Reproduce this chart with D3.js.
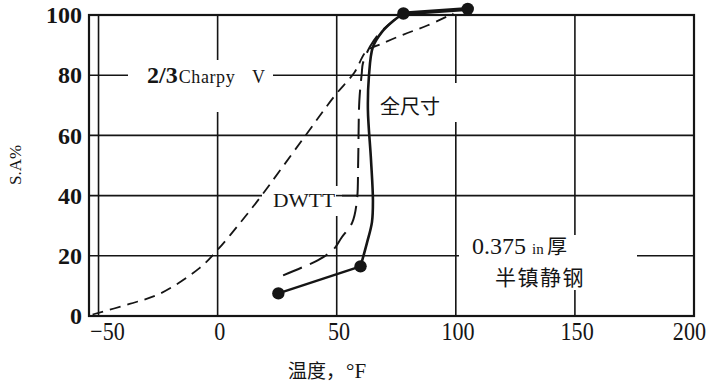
<!DOCTYPE html>
<html>
<head>
<meta charset="utf-8">
<script src="https://cdn.jsdelivr.net/npm/d3@7"></script>
<style>
  html, body { margin: 0; padding: 0; background: #fff; }
  svg { display: block; }
</style>
</head>
<body>
<svg id="chart" width="707" height="385"></svg>
<script>
// Axis ticks and extents
const xTicks = [-50, 0, 50, 100, 150, 200];
const yTicks = [0, 20, 40, 60, 80, 100];
const xDomain = [-54, 200];
const yDomain = [0, 100];

// 2/3 size Charpy V transition curve (temperature °F, shear area %)
const charpyTemp = [-52.5, -37, -24, -7.5, 0, 9.5, 17, 36, 49, 57.5, 62.5, 69, 78, 88, 99];
const charpySA   = [0.5, 4, 7.5, 16, 22, 31, 38.5, 59, 73, 81, 88, 90.5, 93.5, 96.5, 100.5];

// DWTT transition curve
const dwttTemp = [27.5, 36.5, 42, 48.5, 52, 56.5, 58.5, 59, 59.5, 60.5, 61, 64, 68, 74.5];
const dwttSA   = [13.5, 16.5, 18.5, 22, 26, 31, 38.5, 51, 71.5, 80.5, 84, 89.5, 94, 98.5];

// Full size Charpy V: measured points
const fullDotTemp = [25.5, 60, 78, 105];
const fullDotSA   = [7.5, 16.5, 100.5, 102];
// Full size Charpy V: transition between the 2nd and 3rd points
const fullCurveTemp = [60, 62.7, 64.8, 65.2, 64.4, 63.1, 63.5, 65.2, 69, 73.2, 78];
const fullCurveSA   = [16.5, 24.3, 31.2, 38.5, 51.8, 68.4, 79.4, 89.4, 94.4, 97.7, 100.5];

const svg = d3.select('#chart');
const plot = { left: 89, right: 694, top: 15, bottom: 316 };
const x = d3.scaleLinear().domain(xDomain).range([plot.left, plot.right]);
const y = d3.scaleLinear().domain(yDomain).range([plot.bottom, plot.top]);

const ink = '#151515';
const serif = '"Liberation Serif", "DejaVu Serif", serif';
const cjk = '"Noto Sans CJK SC", sans-serif';

const zip = (a, b) => a.map((v, i) => [v, b[i]]);

// Grid
const grid = svg.append('g').attr('stroke', ink).attr('stroke-width', 1.6);
grid.selectAll('line.v')
  .data(xTicks.filter(t => t > xDomain[0] && t < xDomain[1]))
  .join('line').attr('class', 'v')
  .attr('x1', d => x(d)).attr('x2', d => x(d))
  .attr('y1', plot.top).attr('y2', plot.bottom);
grid.selectAll('line.h')
  .data(yTicks.filter(t => t > yDomain[0] && t < yDomain[1]))
  .join('line').attr('class', 'h')
  .attr('x1', plot.left).attr('x2', plot.right)
  .attr('y1', d => y(d)).attr('y2', d => y(d));

// Frame
svg.append('rect')
  .attr('x', plot.left).attr('y', plot.top)
  .attr('width', plot.right - plot.left).attr('height', plot.bottom - plot.top)
  .attr('fill', 'none').attr('stroke', ink).attr('stroke-width', 2.2);

// White backings behind the in-plot labels
const backs = [
  [128, 60, 145, 52],   // 2/3 Charpy V
  [262, 186, 80, 30],   // DWTT
  [376, 83, 84, 39],    // 全尺寸
  [459, 235, 178, 55]   // plate note
];
svg.append('g').selectAll('rect').data(backs).join('rect')
  .attr('x', d => d[0]).attr('y', d => d[1])
  .attr('width', d => d[2]).attr('height', d => d[3])
  .attr('fill', '#fff');

// Leader from the DWTT label to its curve
svg.append('line')
  .attr('x1', 336).attr('x2', 357).attr('y1', y(40)).attr('y2', y(40))
  .attr('stroke', ink).attr('stroke-width', 1.6);

// Axes
const xAxis = d3.axisBottom(x).tickValues(xTicks).tickSize(0).tickPadding(6)
  .tickFormat(d => d < 0 ? '\u2212' + Math.abs(d) : String(d));
const gx = svg.append('g').attr('transform', `translate(0,${plot.bottom})`).call(xAxis);
gx.select('.domain').remove();
gx.selectAll('text')
  .attr('fill', ink)
  .style('font-family', serif).style('font-size', '26px')
  .attr('transform', 'scale(0.85,1)')
  .attr('dx', d => d < 0 ? 10 : d >= xDomain[1] ? -6 : 2);

const yAxis = d3.axisLeft(y).tickValues(yTicks).tickSize(0).tickPadding(7);
const gy = svg.append('g').attr('transform', `translate(${plot.left},0)`).call(yAxis);
gy.select('.domain').remove();
gy.selectAll('text')
  .attr('fill', ink)
  .style('font-family', serif).style('font-size', '24px').style('font-weight', 'bold');

// Axis titles
svg.append('text')
  .attr('transform', 'translate(21,165) rotate(-90)')
  .attr('text-anchor', 'middle')
  .attr('fill', ink)
  .style('font-family', serif).style('font-size', '17px')
  .text('S.A%');

const xt = svg.append('text').attr('x', 288).attr('y', 378).attr('fill', ink);
xt.append('tspan').style('font-family', cjk).style('font-size', '19px').text('温度，');
xt.append('tspan').style('font-family', serif).style('font-size', '21px').attr('dx', 1).text('°F');

// Curves
const smooth = d3.line().x(d => x(d[0])).y(d => y(d[1])).curve(d3.curveCatmullRom.alpha(0.5));
const straight = d3.line().x(d => x(d[0])).y(d => y(d[1]));

svg.append('path')
  .attr('d', smooth(zip(charpyTemp, charpySA)))
  .attr('fill', 'none').attr('stroke', ink).attr('stroke-width', 1.8)
  .attr('stroke-dasharray', '11,7');

svg.append('path')
  .attr('d', smooth(zip(dwttTemp, dwttSA)))
  .attr('fill', 'none').attr('stroke', ink).attr('stroke-width', 2)
  .attr('stroke-dasharray', '20,9');

const dots = zip(fullDotTemp, fullDotSA);
svg.append('path')
  .attr('d', straight(dots.slice(0, 2)))
  .attr('fill', 'none').attr('stroke', ink).attr('stroke-width', 2.4);
svg.append('path')
  .attr('d', smooth(zip(fullCurveTemp, fullCurveSA)))
  .attr('fill', 'none').attr('stroke', ink).attr('stroke-width', 2.6);
svg.append('path')
  .attr('d', straight(dots.slice(2)))
  .attr('fill', 'none').attr('stroke', ink).attr('stroke-width', 4);
svg.append('g').selectAll('circle').data(dots).join('circle')
  .attr('cx', d => x(d[0])).attr('cy', d => y(d[1])).attr('r', 6.2)
  .attr('fill', ink);

// In-plot labels
const cv = svg.append('text').attr('x', 147).attr('y', 83).attr('fill', ink);
cv.append('tspan').style('font-family', serif).style('font-size', '24px').style('font-weight', 'bold').text('2/3');
cv.append('tspan').style('font-family', serif).style('font-size', '18px').style('letter-spacing', '0.6px').attr('dx', 1).text('Charpy');
svg.append('text').attr('x', 252).attr('y', 83).attr('fill', ink)
  .style('font-family', serif).style('font-size', '18px').text('V');

svg.append('text').attr('x', 273).attr('y', 207).attr('fill', ink)
  .attr('textLength', 62).attr('lengthAdjust', 'spacingAndGlyphs')
  .style('font-family', serif).style('font-size', '18px').text('DWTT');

svg.append('text').attr('x', 380).attr('y', 114).attr('fill', ink)
  .style('font-family', cjk).style('font-size', '20px').text('全尺寸');

svg.append('text').attr('x', 472).attr('y', 254).attr('fill', ink)
  .style('font-family', serif).style('font-size', '24px').text('0.375');
svg.append('text').attr('x', 532).attr('y', 254).attr('fill', ink)
  .style('font-family', serif).style('font-size', '15px').text('in');
svg.append('text').attr('x', 547).attr('y', 254).attr('fill', ink)
  .style('font-family', cjk).style('font-size', '20px').text('厚');

svg.append('text').attr('x', 495).attr('y', 285).attr('fill', ink)
  .style('font-family', cjk).style('font-size', '21px').style('letter-spacing', '1.5px')
  .text('半镇静钢');
</script>
</body>
</html>
